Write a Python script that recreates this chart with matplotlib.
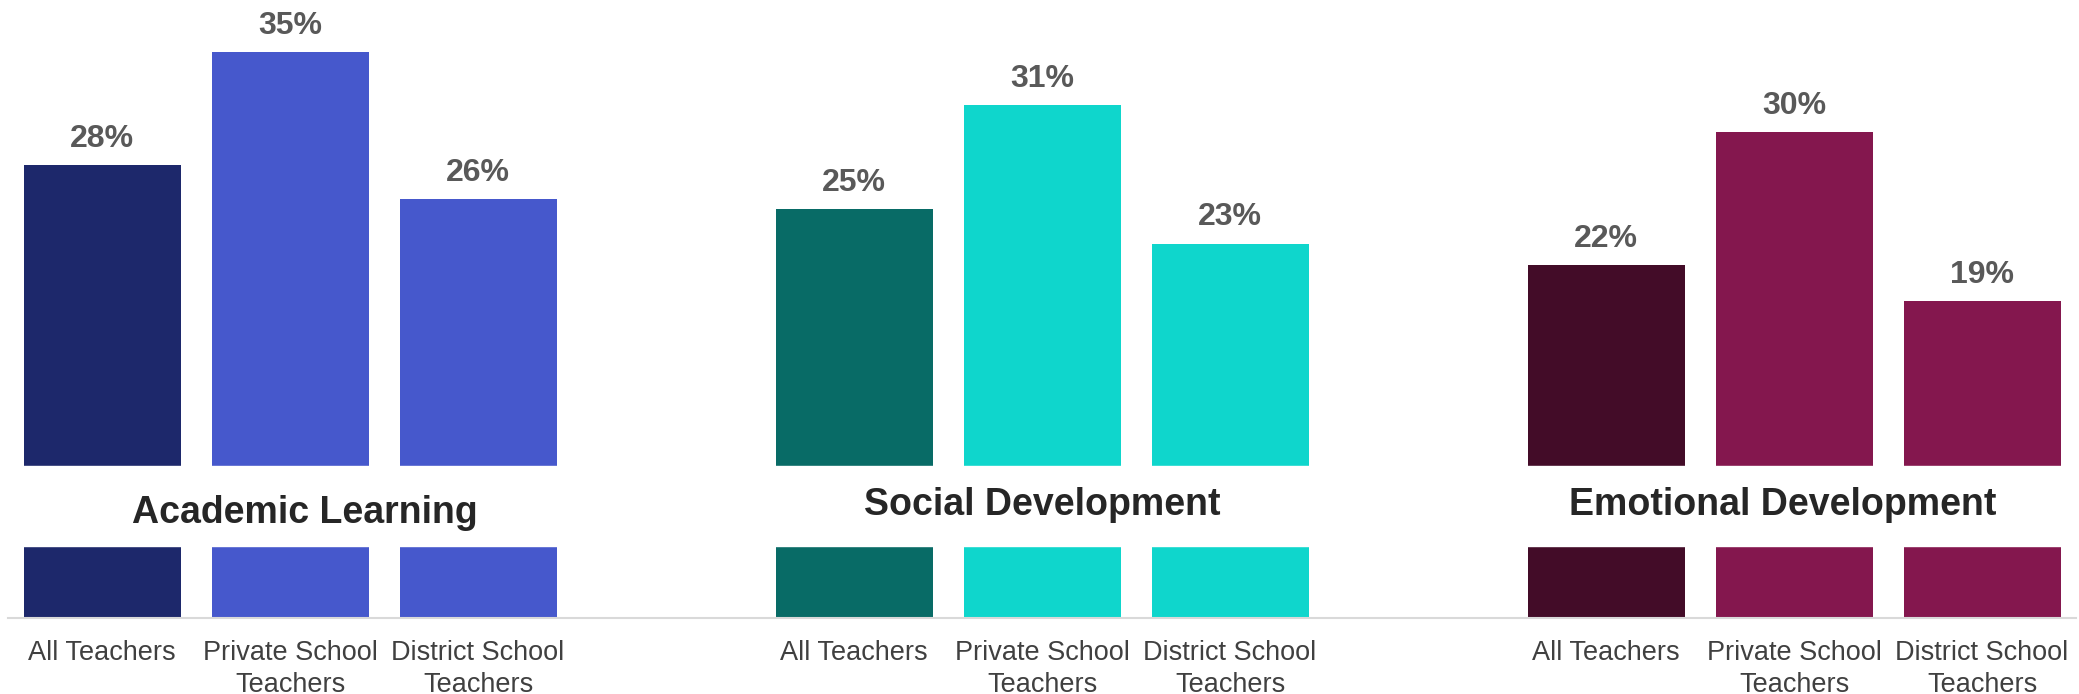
import numpy as np
import matplotlib.pyplot as plt

plt.rcParams.update({
    'font.family': ['Liberation Sans', 'DejaVu Sans'],
})

# data (bar heights, labels show them rounded)
groups = ['Academic Learning', 'Social Development', 'Emotional Development']
categories = ['All Teachers', 'Private School\nTeachers', 'District School\nTeachers']
academic = [27.7, 34.6, 25.6]
social = [25.0, 31.4, 22.9]
emotional = [21.6, 29.7, 19.4]

colors = [
    ['#1D286B', '#4658CC', '#4658CC'],
    ['#086B66', '#0FD6CC', '#0FD6CC'],
    ['#430C28', '#84174E', '#84174E'],
]
# small nudges so the group titles sit like in the original
title_dx = [0.08, 0.0, -0.06]
title_y = [6.40, 6.89, 6.89]

fig = plt.figure(figsize=(20.79, 6.94), dpi=100)
ax = fig.add_axes([0.0039, 0.110, 0.9947, 0.890])

bar_w = 0.835
ticks = []
ticklabels = []
for g, vals in enumerate([academic, social, emotional]):
    xs = np.arange(3) + 4 * g
    ax.bar(xs, vals, width=bar_w, color=colors[g], zorder=2)
    for x, v in zip(xs, vals):
        ax.annotate(f'{v:.0f}%', (x, v), xytext=(0, 8), textcoords='offset points',
                    ha='center', va='bottom', fontsize=23, fontweight='bold',
                    color='#595959', zorder=4)
    ticks.extend(xs)
    ticklabels.extend(categories)

# white band cutting through the bars, with group titles in it
ax.axhspan(4.36, 9.30, color='white', zorder=3)
for g, name in enumerate(groups):
    ax.text(4 * g + 1 + title_dx[g], title_y[g], name, ha='center', va='center',
            fontsize=27, fontweight='bold', color='#262626', zorder=4)

ax.set_xlim(-0.5, 10.5)
ax.set_ylim(0, 37.81)
ax.set_xticks(ticks)
ax.set_xticklabels(ticklabels, fontsize=19.5, color='#404040', linespacing=1.3)
ax.tick_params(axis='x', length=0, pad=16)
ax.set_yticks([])
for s in ['top', 'right', 'left']:
    ax.spines[s].set_visible(False)
ax.spines['bottom'].set_color('#D9D9D9')
ax.spines['bottom'].set_linewidth(1.5)

fig.savefig('out.png', dpi=100)
